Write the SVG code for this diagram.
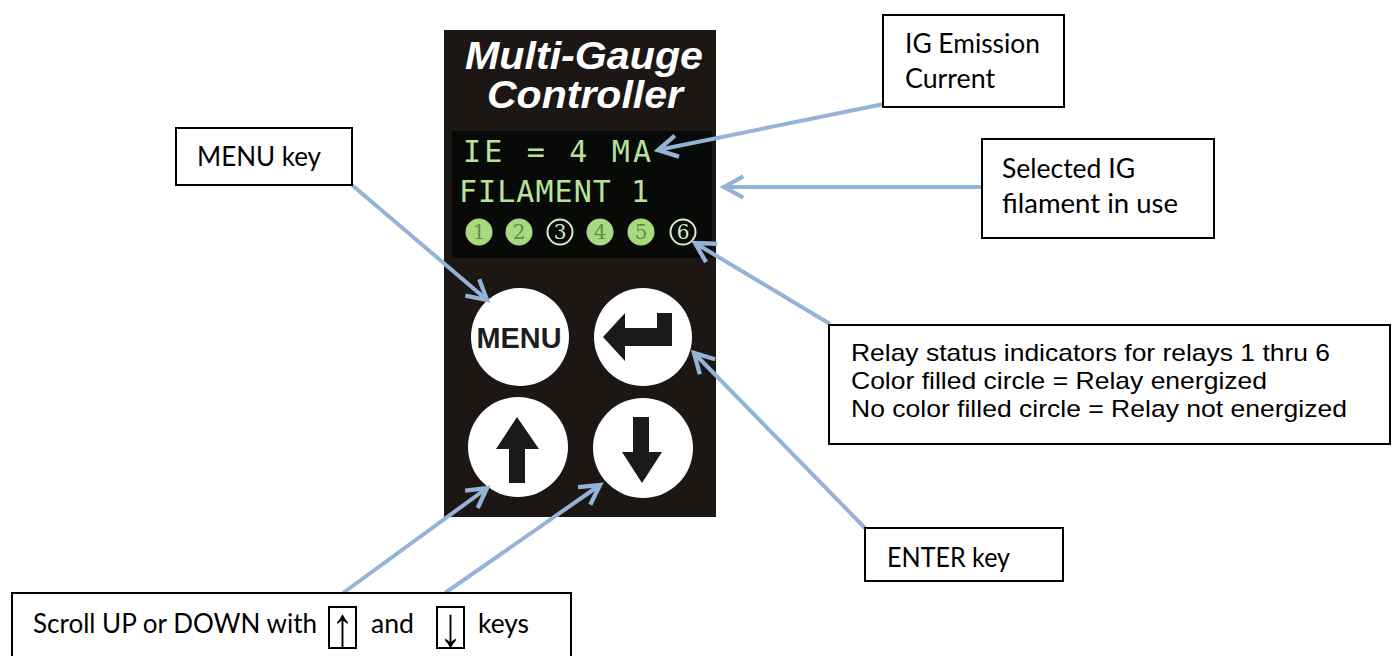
<svg xmlns="http://www.w3.org/2000/svg" width="1392" height="656" viewBox="0 0 1392 656">
<defs>
<style>
.box{fill:#ffffff;stroke:#000000;stroke-width:2}
.lbl{font-family:Lato,"Noto Sans",sans-serif;font-size:26px;fill:#000000}
.ar{font-family:"Liberation Sans",Arial,sans-serif;font-size:24px;fill:#000000}
.conn{stroke:#95b3d7;stroke-width:4;fill:none;marker-end:url(#chev)}
.lcd{font-family:"DejaVu Sans Mono",monospace;font-size:30px;fill:#b8e29c}
.ttl{font-family:"Liberation Sans",Arial,sans-serif;font-size:39px;font-weight:bold;font-style:italic;fill:#ffffff;text-anchor:middle}
.btn{fill:#ffffff}
.glyph{fill:#1a1a1a}
.led{fill:#a9d97f}
.ledo{fill:none;stroke:#d8efc6;stroke-width:2}
.dig{font-family:"DejaVu Serif",serif;font-size:20px;text-anchor:middle}
.sym{font-family:"Liberation Sans",Arial,sans-serif;font-size:40px;text-anchor:middle;fill:#000000}
</style>
<marker id="chev" markerUnits="userSpaceOnUse" markerWidth="30" markerHeight="30" viewBox="-22 -14 26 28" refX="0" refY="0" orient="auto">
<path d="M-18,-10 L0,0 L-18,10" fill="none" stroke="#95b3d7" stroke-width="4" stroke-linejoin="miter"/>
</marker>
</defs>
<rect width="1392" height="656" fill="#ffffff"/>

<g id="controller">
<rect x="444" y="30" width="272" height="487" fill="#1c1714"/>
<text class="ttl" x="584" y="69" textLength="238" lengthAdjust="spacingAndGlyphs">Multi-Gauge</text>
<text class="ttl" x="585" y="108" textLength="196" lengthAdjust="spacingAndGlyphs">Controller</text>
<rect x="452" y="131" width="260" height="127" fill="#080a08"/>
<text class="lcd" x="463" y="162" textLength="188" lengthAdjust="spacing">IE = 4 MA</text>
<text class="lcd" x="459" y="202" textLength="190" lengthAdjust="spacing">FILAMENT 1</text>
<circle class="led" cx="479" cy="232" r="13.5"/>
<text class="dig" x="479" y="239" fill="#5f8f45">1</text>
<circle class="led" cx="519" cy="232" r="13.5"/>
<text class="dig" x="519" y="239" fill="#5f8f45">2</text>
<circle class="ledo" cx="560" cy="232" r="12.5"/>
<text class="dig" x="560" y="239" fill="#d8efc6">3</text>
<circle class="led" cx="600" cy="232" r="13.5"/>
<text class="dig" x="600" y="239" fill="#5f8f45">4</text>
<circle class="led" cx="641" cy="232" r="13.5"/>
<text class="dig" x="641" y="239" fill="#5f8f45">5</text>
<circle class="ledo" cx="683" cy="232" r="12.5"/>
<text class="dig" x="683" y="239" fill="#d8efc6">6</text>
</g>

<g id="btn-menu">
<circle class="btn" cx="520" cy="337" r="49"/>
<text x="519" y="348" font-family="'Liberation Sans',Arial,sans-serif" font-size="29" font-weight="bold" fill="#1e1e1e" text-anchor="middle" textLength="85" lengthAdjust="spacingAndGlyphs">MENU</text>
</g>
<g id="btn-enter">
<circle class="btn" cx="643" cy="337" r="49"/>
<polygon class="glyph" points="603,337 625,313 625,328 657,328 657,313 672,313 672,346 625,346 625,361"/>
</g>
<g id="btn-up">
<circle class="btn" cx="518" cy="447" r="50"/>
<polygon class="glyph" points="517,417 539,449 525,449 525,483 509,483 509,449 496,449"/>
</g>
<g id="btn-down">
<circle class="btn" cx="643" cy="448" r="50"/>
<polygon class="glyph" points="633,417 649,417 649,452 662,452 642,483 622,452 633,452"/>
</g>

<g id="connectors">
<line class="conn" x1="884" y1="104" x2="658" y2="150"/>
<line class="conn" x1="982" y1="187" x2="724" y2="187"/>
<line class="conn" x1="830" y1="324" x2="695" y2="243"/>
<line class="conn" x1="865" y1="528" x2="694" y2="353"/>
<line class="conn" x1="352" y1="185" x2="487" y2="300"/>
<line class="conn" x1="343" y1="593" x2="487" y2="488"/>
<line class="conn" x1="445" y1="593" x2="600" y2="485"/>
</g>

<g id="ig-emission">
<rect class="box" x="883" y="15" width="181" height="92"/>
<text class="lbl" x="905" y="53" textLength="135" lengthAdjust="spacingAndGlyphs">IG Emission</text>
<text class="lbl" x="905" y="88" textLength="90" lengthAdjust="spacingAndGlyphs">Current</text>
</g>

<g id="filament">
<rect class="box" x="982" y="139" width="232" height="99"/>
<text class="lbl" x="1002" y="178" textLength="133" lengthAdjust="spacingAndGlyphs">Selected IG</text>
<text class="lbl" x="1002" y="213" textLength="176" lengthAdjust="spacingAndGlyphs">filament in use</text>
</g>

<g id="menu-key">
<rect class="box" x="176" y="128" width="176" height="57"/>
<text class="lbl" x="197" y="166" textLength="124" lengthAdjust="spacingAndGlyphs">MENU key</text>
</g>

<g id="relay-status">
<rect class="box" x="829" y="325" width="561" height="119"/>
<text class="ar" x="851" y="361" textLength="479" lengthAdjust="spacingAndGlyphs">Relay status indicators for relays 1 thru 6</text>
<text class="ar" x="851" y="389" textLength="416" lengthAdjust="spacingAndGlyphs">Color filled circle = Relay energized</text>
<text class="ar" x="851" y="417" textLength="496" lengthAdjust="spacingAndGlyphs">No color filled circle = Relay not energized</text>
</g>

<g id="enter-key">
<rect class="box" x="865" y="528" width="198" height="53"/>
<text class="lbl" x="887" y="567" textLength="123" lengthAdjust="spacingAndGlyphs">ENTER key</text>
</g>

<g id="scroll">
<rect class="box" x="12" y="593" width="559" height="80"/>
<text class="lbl" x="33" y="633" textLength="284" lengthAdjust="spacingAndGlyphs">Scroll UP or DOWN with</text>
<rect x="329" y="607" width="27" height="41" fill="none" stroke="#000" stroke-width="2"/>
<text class="sym" x="342.5" y="641" transform="translate(342.5,627.5) scale(1.15,1.4) translate(-342.5,-627.5)">↑</text>
<text class="lbl" x="371" y="633" textLength="43" lengthAdjust="spacingAndGlyphs">and</text>
<rect x="437" y="607" width="27" height="41" fill="none" stroke="#000" stroke-width="2"/>
<text class="sym" x="450.5" y="641" transform="translate(450.5,627.5) scale(1.15,1.4) translate(-450.5,-627.5)">↓</text>
<text class="lbl" x="478" y="633" textLength="51" lengthAdjust="spacingAndGlyphs">keys</text>
</g>
</svg>
